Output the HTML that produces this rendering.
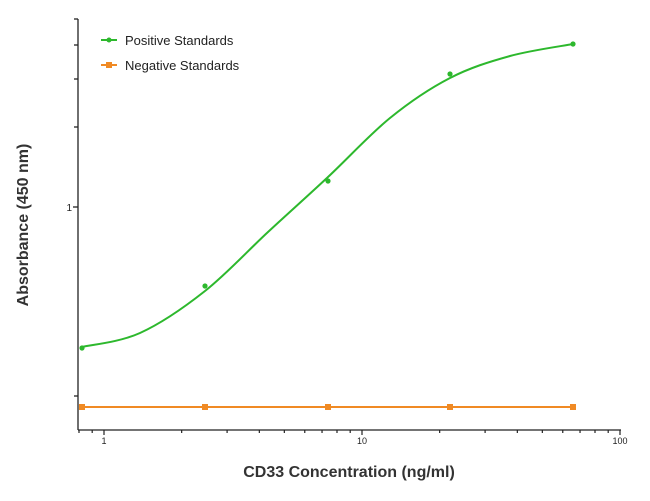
<!DOCTYPE html>
<html><head><meta charset="utf-8"><style>
body{margin:0;background:#fff;width:650px;height:496px;overflow:hidden}
text{font-family:"Liberation Sans",Arial,sans-serif}
</style></head><body>
<svg id="s" width="650" height="496" viewBox="0 0 650 496" xmlns="http://www.w3.org/2000/svg">
<g stroke="#222" stroke-width="1.3" fill="none">
<line x1="78" y1="19" x2="78" y2="430"/>
<line x1="78" y1="430" x2="621" y2="430"/>
<line x1="74" y1="19" x2="78" y2="19"/>
<line x1="74" y1="45" x2="78" y2="45"/>
<line x1="74" y1="79" x2="78" y2="79"/>
<line x1="74" y1="127" x2="78" y2="127"/>
<line x1="73" y1="207" x2="78" y2="207"/>
<line x1="74" y1="396" x2="78" y2="396"/>
</g>
<g id="xt" stroke="#222" stroke-width="1.2"></g>
<text x="72" y="211" font-size="10" text-anchor="end" fill="#222">1</text>
<text x="104" y="444" font-size="9" text-anchor="middle" fill="#222">1</text>
<text x="362" y="444" font-size="9" text-anchor="middle" fill="#222">10</text>
<text x="620" y="444" font-size="9" text-anchor="middle" fill="#222">100</text>
<text x="349" y="477" font-size="16" font-weight="bold" text-anchor="middle" fill="#333">CD33 Concentration (ng/ml)</text>
<text transform="translate(28,225) rotate(-90)" font-size="16" font-weight="bold" text-anchor="middle" fill="#333">Absorbance (450 nm)</text>
<line x1="101" y1="40" x2="117" y2="40" stroke="#2db82d" stroke-width="2"/>
<circle cx="109" cy="40" r="2.5" fill="#2db82d"/>
<text x="125" y="45" font-size="13" fill="#222">Positive Standards</text>
<line x1="101" y1="65" x2="117" y2="65" stroke="#f08a24" stroke-width="2"/>
<rect x="106" y="62" width="6" height="6" fill="#f08a24"/>
<text x="125" y="70" font-size="13" fill="#222">Negative Standards</text>
<line x1="82" y1="407" x2="573" y2="407" stroke="#f08a24" stroke-width="2"/>
<g fill="#f08a24">
<rect x="79" y="404" width="6" height="6"/><rect x="202" y="404" width="6" height="6"/>
<rect x="325" y="404" width="6" height="6"/><rect x="447" y="404" width="6" height="6"/>
<rect x="570" y="404" width="6" height="6"/></g>
<path id="c" fill="none" stroke="#2db82d" stroke-width="2"/>
<g fill="#2db82d">
<circle cx="82" cy="348" r="2.6"/><circle cx="205" cy="286" r="2.6"/>
<circle cx="328" cy="181" r="2.6"/><circle cx="450" cy="74" r="2.6"/>
<circle cx="573" cy="44" r="2.6"/></g>
</svg>
<script>
var g=document.getElementById('xt'),h='';
function L(v){return 104+258*Math.log10(v);}
[0.8,0.9,1,2,3,4,5,6,7,8,9,10,20,30,40,50,60,70,80,90,100].forEach(function(v){
var x=L(v),len=(v==1||v==10||v==100)?5:3;
h+='<line x1="'+x+'" y1="430" x2="'+x+'" y2="'+(430+len)+'"/>';});
g.innerHTML=h;
var P=[[82,347],[140,333],[205,291],[268,232],[328,177],[390,118],[450,78],[510,56],[573,44]];
var d='M'+P[0][0]+','+P[0][1];
for(var i=0;i<P.length-1;i++){var p0=P[Math.max(i-1,0)],p1=P[i],p2=P[i+1],p3=P[Math.min(i+2,P.length-1)];
d+=' C'+(p1[0]+(p2[0]-p0[0])/6)+','+(p1[1]+(p2[1]-p0[1])/6)+' '+(p2[0]-(p3[0]-p1[0])/6)+','+(p2[1]-(p3[1]-p1[1])/6)+' '+p2[0]+','+p2[1];}
document.getElementById('c').setAttribute('d',d);
</script>
</body></html>
